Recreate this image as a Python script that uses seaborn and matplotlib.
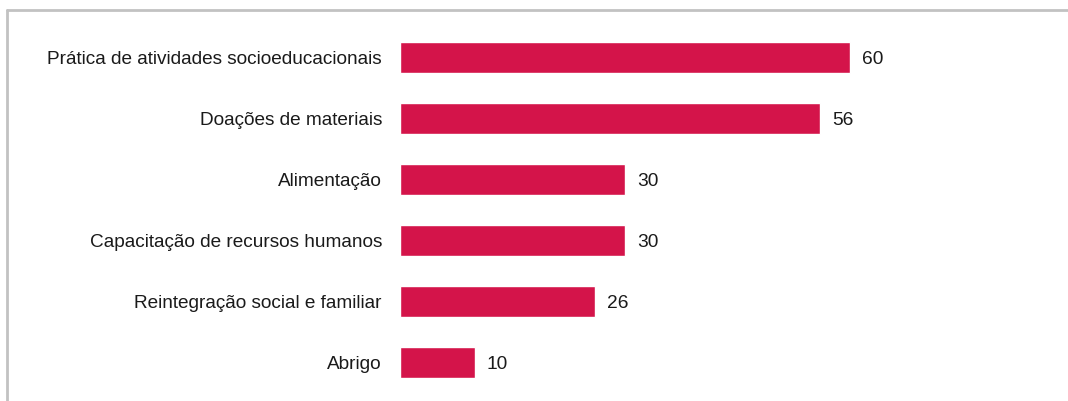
import matplotlib
matplotlib.use("Agg")
import matplotlib.pyplot as plt
from matplotlib.lines import Line2D
import seaborn as sns
import pandas as pd

categories = [
    "Prática de atividades socioeducacionais",
    "Doações de materiais",
    "Alimentação",
    "Capacitação de recursos humanos",
    "Reintegração social e familiar",
    "Abrigo",
]
values = [60, 56, 30, 30, 26, 10]

df = pd.DataFrame({"categoria": categories, "valor": values})

sns.set_theme(style="white")
plt.rcParams["font.family"] = ["Liberation Sans", "DejaVu Sans"]

W, H = 1068, 401
fig = plt.figure(figsize=(W / 100, H / 100), dpi=100)
ax = fig.add_axes([400 / W, 0, 668 / W, 1])

sns.barplot(data=df, x="valor", y="categoria", color="#D4144A",
            width=0.51, saturation=1, ax=ax, orient="h")

ax.set_xlim(0, 668 / 7.5)
ax.set_ylim(5 + 39 / 61, -57.5 / 61)
for s in ax.spines.values():
    s.set_visible(False)
ax.set_xticks([])
ax.set_xlabel("")
ax.set_ylabel("")
ax.tick_params(axis="y", length=0, pad=13, labelsize=13.7, labelcolor="#1a1a1a")

for container in ax.containers:
    texts = ax.bar_label(container, labels=[str(v) for v in values], padding=8.5,
                         fontsize=13.8, color="#1a1a1a")
    for t in texts:
        t.set_va("center_baseline")

# light grey frame along the top and left edges
fig.add_artist(Line2D([7 / W, 1], [1 - 10 / H, 1 - 10 / H], transform=fig.transFigure,
                      color="#c2c2c2", lw=2))
fig.add_artist(Line2D([7 / W, 7 / W], [0, 1 - 10 / H], transform=fig.transFigure,
                      color="#c2c2c2", lw=2))

fig.savefig("out.png", dpi=100)
